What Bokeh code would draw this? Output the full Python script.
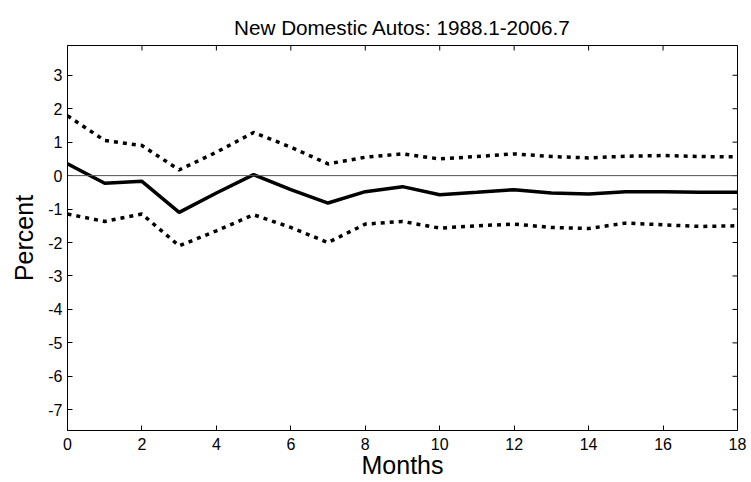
import math
from bokeh.plotting import figure
from bokeh.models import FixedTicker, Span, Range1d
from bokeh.embed import file_html
from bokeh.resources import INLINE

months = list(range(19))
response = [0.35, -0.23, -0.17, -1.10, -0.52, 0.03, -0.42, -0.82, -0.48, -0.33,
            -0.57, -0.50, -0.42, -0.52, -0.55, -0.48, -0.48, -0.50, -0.50]
upper = [1.79, 1.05, 0.90, 0.17, 0.70, 1.29, 0.85, 0.35, 0.55, 0.65,
         0.50, 0.57, 0.65, 0.57, 0.53, 0.58, 0.60, 0.57, 0.56]
lower = [-1.15, -1.37, -1.15, -2.10, -1.65, -1.17, -1.55, -2.00, -1.45, -1.37,
         -1.57, -1.50, -1.45, -1.55, -1.58, -1.42, -1.47, -1.52, -1.50]
x_ticks = [0, 2, 4, 6, 8, 10, 12, 14, 16, 18]
y_ticks = [-7, -6, -5, -4, -3, -2, -1, 0, 1, 2, 3]
y_tick_labels = ["-7", "-6", "-5", "-4", "-3", "-2", "-1", "0", "1", "2", "3"]
x_lim = (0, 18)
y_lim = (-7.62, 3.89)

FONT = "Liberation Sans"

p = figure(width=751, height=482, output_backend="svg", toolbar_location=None,
           x_range=Range1d(*x_lim), y_range=Range1d(*y_lim),
           min_border_left=67, min_border_right=14, min_border_top=45, min_border_bottom=52,
           title="New Domestic Autos: 1988.1-2006.7")
p.title.align = "center"
p.title.text_font = FONT
p.title.text_font_size = "20.7px"
p.title.text_font_style = "normal"
p.title.text_color = "black"
p.title.offset = 0
p.title.standoff = 14

p.grid.visible = False
p.outline_line_color = "black"
p.outline_line_width = 1
p.background_fill_color = "white"
p.border_fill_color = "white"

p.xaxis.ticker = FixedTicker(ticks=x_ticks)
p.xaxis.axis_label = "Months"
p.yaxis.ticker = FixedTicker(ticks=y_ticks)
p.yaxis.major_label_overrides = {t: s for t, s in zip(y_ticks, y_tick_labels)}
p.yaxis.axis_label = "Percent"

for ax in p.axis:
    ax.major_tick_in = 5
    ax.major_tick_out = 0
    ax.minor_tick_line_color = None
    ax.axis_line_color = "black"
    ax.major_tick_line_color = "black"
    ax.major_label_text_font = FONT
    ax.major_label_text_font_size = "16px"
    ax.major_label_text_color = "black"
    ax.axis_label_text_font = FONT
    ax.axis_label_text_font_size = "25px"
    ax.axis_label_text_font_style = "normal"
    ax.axis_label_text_color = "black"

p.xaxis.major_label_standoff = 7
p.xaxis.axis_label_standoff = -2
p.yaxis.major_label_standoff = 5
p.yaxis.axis_label_standoff = 7

# tick marks on the top and right edges of the box
p.scatter(x_ticks, [y_lim[1]] * len(x_ticks), marker="dash", angle=math.pi / 2,
          size=10, line_color="black", line_width=1)
p.scatter([x_lim[1]] * len(y_ticks), y_ticks, marker="dash",
          size=10, line_color="black", line_width=1)

p.add_layout(Span(location=0, dimension="width", line_color="#555555", line_width=1))

p.line(months, upper, line_color="black", line_width=3.5, line_dash="4 5")
p.line(months, lower, line_color="black", line_width=3.5, line_dash="4 5")
p.line(months, response, line_color="black", line_width=3.5)

open("out.html", "w").write(file_html(p, INLINE))
